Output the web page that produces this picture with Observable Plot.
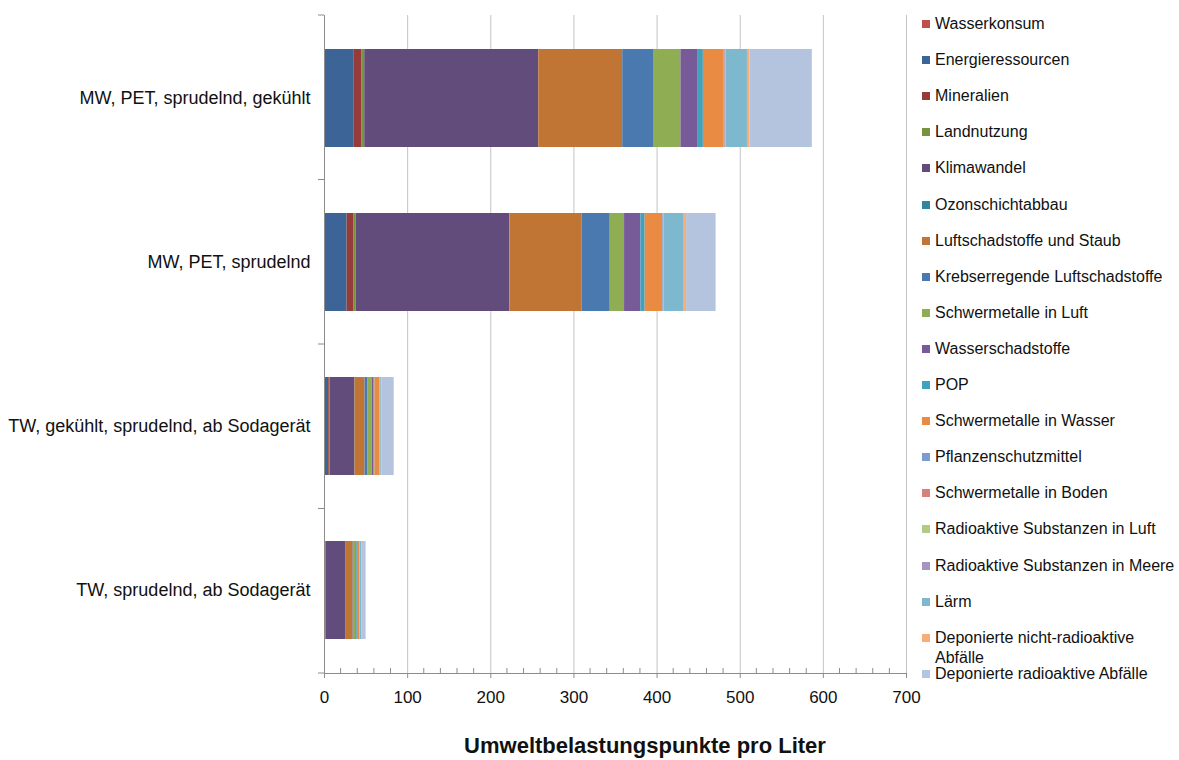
<!DOCTYPE html>
<html>
<head>
<meta charset="utf-8">
<script src="https://cdn.jsdelivr.net/npm/d3@7"></script>
<script src="https://cdn.jsdelivr.net/npm/@observablehq/plot@0.6"></script>
<style>
  body { margin: 0; background: #fff; font-family: "Liberation Sans", Arial, sans-serif; }
  #wrap { position: relative; width: 1179px; height: 760px; overflow: hidden; }
  #legend { position: absolute; left: 922px; top: 0; }
  .item { position: absolute; left: 0; display: flex; align-items: flex-start; font-size: 16px; line-height: 20px; color: #111; white-space: nowrap; }
  .sw { width: 8px; height: 8px; margin-top: 6px; margin-right: 5px; flex: none; }
  #xtitle { position: absolute; left: 345px; width: 600px; top: 735px; text-align: center; font-size: 22px; line-height: 22px; font-weight: bold; color: #111; white-space: nowrap; }
</style>
</head>
<body>
<div id="wrap"><div id="chart"></div><div id="legend"></div><div id="xtitle"></div></div>
<script>
const categories = [
  "MW, PET, sprudelnd, gekühlt",
  "MW, PET, sprudelnd",
  "TW, gekühlt, sprudelnd, ab Sodagerät",
  "TW, sprudelnd, ab Sodagerät"
];

const indicators = [
  "Wasserkonsum", "Energieressourcen", "Mineralien", "Landnutzung", "Klimawandel",
  "Ozonschichtabbau", "Luftschadstoffe und Staub", "Krebserregende Luftschadstoffe",
  "Schwermetalle in Luft", "Wasserschadstoffe", "POP", "Schwermetalle in Wasser",
  "Pflanzenschutzmittel", "Schwermetalle in Boden", "Radioaktive Substanzen in Luft",
  "Radioaktive Substanzen in Meere", "Lärm", "Deponierte nicht-radioaktive Abfälle",
  "Deponierte radioaktive Abfälle"
];

const colors = [
  "#C0504D", "#3C6496", "#953B39", "#77933C", "#624C7C",
  "#31859C", "#C17534", "#4A79B0", "#8FAD52", "#765B98",
  "#42A1BC", "#E98B42", "#7C9BD0", "#D3807F", "#AFCB86",
  "#A593C2", "#7DB8CF", "#F8AD77", "#B4C3DE"
];

const xTitle = "Umweltbelastungspunkte pro Liter";

// values per category, in the order of `indicators`
const valuesMWPETgekuehlt = [0.5, 34.7, 10, 3.2, 209, 0.3, 101, 37, 33, 20, 7, 25, 1, 0.8, 0.2, 0.5, 25.5, 3, 75];
const valuesMWPET         = [0.4, 26.8, 8.4, 2.5, 184.6, 0.2, 87, 33.8, 17.2, 19.6, 5.2, 21.2, 0.8, 0.5, 0.1, 0.3, 24.1, 2.8, 35.5];
const valuesTWgekuehlt    = [0.2, 4.6, 1, 0.8, 30, 0.1, 12, 3.2, 5.5, 2, 1.2, 6, 0.3, 0.2, 0.1, 0.2, 1, 0.4, 15];
const valuesTW            = [0.1, 1, 0.3, 0.3, 24.3, 0.1, 8.4, 1.2, 2, 1.2, 0.8, 2.8, 0.2, 0.2, 0.1, 0.1, 2, 0.4, 4.5];

const majorTicks = [0, 100, 200, 300, 400, 500, 600, 700];
const minorTicks = d3.range(0, 701, 20).filter(v => v % 100 !== 0);

const seriesByCategory = [valuesMWPETgekuehlt, valuesMWPET, valuesTWgekuehlt, valuesTW];
const table = [];
categories.forEach((c, ci) => {
  indicators.forEach((ind, ii) => {
    table.push({category: c, indicator: ind, value: seriesByCategory[ci][ii]});
  });
});

const axisGrey = "#8c8c8c";

// minor ticks (upward from the x axis line)
function minorTickMark(index, scales, values, dim) {
  const g = d3.create("svg:g").attr("stroke", axisGrey);
  const yb = dim.height - dim.marginBottom;
  for (const v of minorTicks) {
    const x = scales.x(v);
    g.append("line").attr("x1", x).attr("x2", x).attr("y1", yb - 5).attr("y2", yb);
  }
  return g.node();
}

// category boundary ticks on the y axis
function boundaryTickMark(index, scales, values, dim) {
  const g = d3.create("svg:g").attr("stroke", axisGrey);
  const top = dim.marginTop, bottom = dim.height - dim.marginBottom;
  const step = (bottom - top) / categories.length;
  const x0 = scales.x(0);
  for (let i = 0; i <= categories.length; i++) {
    const y = top + i * step;
    g.append("line").attr("x1", x0 - 6).attr("x2", x0).attr("y1", y).attr("y2", y);
  }
  return g.node();
}

const chart = Plot.plot({
  width: 1179,
  height: 760,
  marginTop: 15,
  marginBottom: 87,
  marginLeft: 324,
  marginRight: 273,
  style: {fontFamily: "'Liberation Sans', Arial, sans-serif", color: "#111", background: "#fff"},
  x: {domain: [0, 700]},
  y: {domain: categories, paddingInner: 0.4, paddingOuter: 0.2},
  color: {domain: indicators, range: colors},
  marks: [
    Plot.gridX({ticks: majorTicks.filter(v => v > 0), stroke: "#c4c4c4", strokeOpacity: 1}),
    Plot.barX(table, {x: "value", y: "category", fill: "indicator"}),
    Plot.ruleX([0], {stroke: axisGrey}),
    Plot.frame({anchor: "bottom", stroke: axisGrey}),
    minorTickMark,
    boundaryTickMark,
    Plot.axisY({tickSize: 0, tickPadding: 14, fontSize: 18, label: null}),
    Plot.axisX({ticks: majorTicks, tickSize: 5, tickPadding: 12, fontSize: 17, stroke: axisGrey, label: null})
  ]
});
document.getElementById("chart").appendChild(chart);
document.getElementById("xtitle").textContent = xTitle;

// legend
const legend = d3.select("#legend");
indicators.forEach((ind, i) => {
  const cy = 24 + i * 36.1;
  const item = legend.append("div").attr("class", "item").style("top", (cy - 10) + "px");
  item.append("div").attr("class", "sw").style("background", colors[i]);
  const label = ind === "Deponierte nicht-radioaktive Abfälle" ? "Deponierte nicht-radioaktive<br>Abfälle" : ind;
  item.append("div").html(label);
});
</script>
</body>
</html>
